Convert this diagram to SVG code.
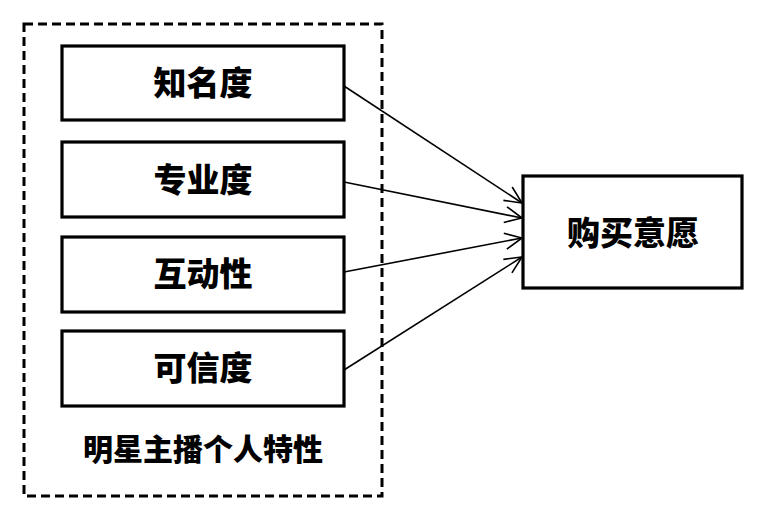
<svg xmlns="http://www.w3.org/2000/svg" width="763" height="520" viewBox="0 0 763 520">
<style>
.box{fill:#fff;stroke:#000;stroke-width:3.2}
.lbl{font-family:"Noto Sans CJK SC","Liberation Sans",sans-serif;font-weight:900;font-size:33px;fill:#000;text-anchor:middle;dominant-baseline:central}
.conn{stroke:#000;stroke-width:1.6;fill:none;marker-end:url(#arr)}
</style>
<defs>
<marker id="arr" markerWidth="20" markerHeight="20" refX="18" refY="10" orient="auto" markerUnits="userSpaceOnUse">
<path d="M1,2 L18,10 L1,18" fill="none" stroke="#000" stroke-width="1.6"/>
</marker>
</defs>
<rect width="763" height="520" fill="#fff"/>
<g id="group">
<rect x="24" y="24" width="358" height="472" fill="none" stroke="#000" stroke-width="3" stroke-dasharray="9,5"/>
<text class="lbl" x="203" y="447" style="font-size:30px">明星主播个人特性</text>
</g>
<g id="n1"><rect class="box" x="62" y="46" width="282" height="74"/><text class="lbl" x="203" y="81">知名度</text></g>
<g id="n2"><rect class="box" x="62" y="142" width="282" height="75"/><text class="lbl" x="203" y="178">专业度</text></g>
<g id="n3"><rect class="box" x="62" y="237" width="282" height="75"/><text class="lbl" x="203" y="272">互动性</text></g>
<g id="n4"><rect class="box" x="62" y="331" width="282" height="75"/><text class="lbl" x="203" y="366">可信度</text></g>
<g id="n5"><rect class="box" x="523" y="176" width="219" height="112"/><text class="lbl" x="633" y="231">购买意愿</text></g>
<g id="connectors">
<line class="conn" x1="344" y1="86" x2="522" y2="203"/>
<line class="conn" x1="344" y1="182" x2="522" y2="218"/>
<line class="conn" x1="344" y1="272" x2="522" y2="238"/>
<line class="conn" x1="344" y1="370" x2="522" y2="257"/>
</g>
</svg>
